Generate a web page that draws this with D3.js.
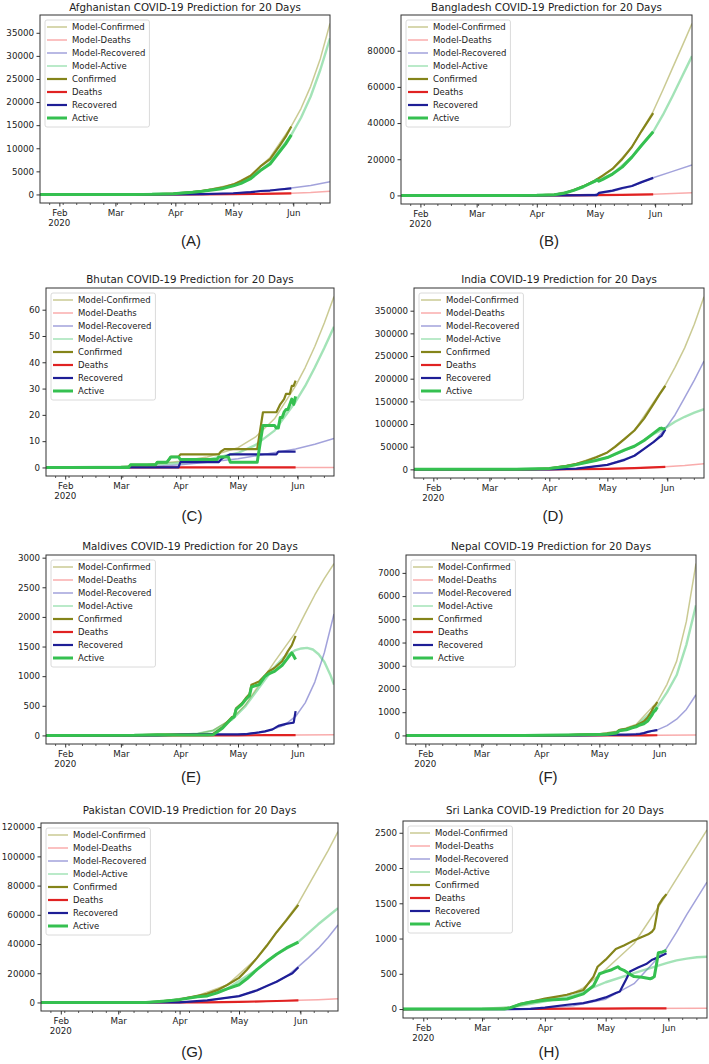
<!DOCTYPE html>
<html><head><meta charset="utf-8">
<script src="https://cdn.jsdelivr.net/npm/d3@7"></script>
<style>body{margin:0;background:#fff} svg{display:block}</style>
</head><body><svg id="c" width="709" height="1064"></svg>
<script>
// ---------- DATA (date "M/D" 2020, value) ----------
const seriesNames = ["Model-Confirmed","Model-Deaths","Model-Recovered","Model-Active","Confirmed","Deaths","Recovered","Active"];
const countryNames = ["Afghanistan","Bangladesh","Bhutan","India","Maldives","Nepal","Pakistan","Sri Lanka"];
const panelLetters = ["A","B","C","D","E","F","G","H"];
const monthTickLabels = ["Feb","Mar","Apr","May","Jun"];
const monthTickDates = ["2/1","3/1","4/1","5/1","6/1"];
const xDomainDates = ["1/22","6/20"];

const yTicksAF = [0,5000,10000,15000,20000,25000,30000,35000];
const yTicksBD = [0,20000,40000,60000,80000];
const yTicksBT = [0,10,20,30,40,50,60];
const yTicksIN = [0,50000,100000,150000,200000,250000,300000,350000];
const yTicksMV = [0,500,1000,1500,2000,2500,3000];
const yTicksNP = [0,1000,2000,3000,4000,5000,6000,7000];
const yTicksPK = [0,20000,40000,60000,80000,100000,120000];
const yTicksLK = [0,500,1000,1500,2000,2500];

// Afghanistan
const afModelConfirmed = [["1/22",0],["3/1",10],["3/15",40],["4/1",230],["4/15",760],["5/1",2200],["5/10",4200],["5/20",8000],["5/31",14800],["6/5",18600],["6/10",23400],["6/15",29400],["6/20",37000]];
const afModelDeaths = [["1/22",0],["4/1",4],["4/15",25],["5/1",65],["5/15",130],["5/31",260],["6/10",420],["6/20",700]];
const afModelRecovered = [["1/22",0],["3/20",2],["4/1",10],["4/15",60],["5/1",250],["5/15",700],["5/31",1380],["6/10",1950],["6/20",2750]];
const afModelActive = [["1/22",0],["3/15",35],["4/1",200],["4/15",680],["5/1",1900],["5/10",3600],["5/20",6900],["5/31",12900],["6/5",16600],["6/10",21200],["6/15",27000],["6/20",33800]];
const afConfirmed = [["1/22",0],["2/24",1],["3/10",5],["3/20",24],["3/31",174],["4/10",521],["4/15",784],["4/20",1092],["4/25",1463],["5/1",2171],["5/5",2894],["5/10",4033],["5/15",6053],["5/20",7653],["5/25",10582],["5/28",12456],["5/31",14700]];
const afDeaths = [["1/22",0],["3/22",1],["4/1",4],["4/15",25],["5/1",64],["5/15",127],["5/31",250]];
const afRecovered = [["1/22",0],["3/15",1],["4/1",5],["4/15",61],["5/1",260],["5/10",502],["5/15",745],["5/20",850],["5/25",1075],["5/31",1330]];
const afActive = [["1/22",0],["2/24",1],["3/10",5],["3/20",23],["3/31",164],["4/10",490],["4/15",700],["4/20",960],["4/25",1250],["5/1",1850],["5/5",2400],["5/10",3420],["5/15",5180],["5/20",6600],["5/25",9300],["5/28",10900],["5/31",12900]];

// Bangladesh
const bdModelConfirmed = [["1/22",0],["3/20",15],["4/1",60],["4/10",400],["4/20",2900],["5/1",8200],["5/10",14800],["5/20",26800],["5/31",46500],["6/5",58300],["6/10",70500],["6/15",82700],["6/20",95000]];
const bdModelDeaths = [["1/22",0],["4/1",6],["4/15",50],["5/1",170],["5/15",300],["5/31",630],["6/10",1000],["6/20",1480]];
const bdModelRecovered = [["1/22",0],["4/1",20],["4/15",100],["5/1",600],["5/10",2300],["5/20",5000],["5/31",9800],["6/10",13300],["6/20",16800]];
const bdModelActive = [["1/22",0],["3/20",15],["4/1",30],["4/10",360],["4/20",2800],["5/1",7800],["5/10",11800],["5/20",21100],["5/31",35200],["6/5",44500],["6/10",55000],["6/15",66000],["6/20",77000]];
const bdConfirmed = [["1/22",0],["3/8",3],["3/20",20],["4/1",54],["4/10",424],["4/15",1231],["4/20",2948],["4/25",4998],["5/1",8238],["5/5",10929],["5/10",14657],["5/15",20065],["5/20",26738],["5/25",35585],["5/31",45500]];
const bdDeaths = [["1/22",0],["3/18",1],["4/1",6],["4/15",50],["5/1",170],["5/15",298],["5/31",620]];
const bdRecovered = [["1/22",0],["3/20",3],["4/15",49],["5/1",174],["5/2",177],["5/3",1403],["5/10",2650],["5/15",4117],["5/20",5207],["5/25",7334],["5/31",9700]];
const bdActive = [["1/22",0],["3/8",3],["3/20",16],["4/1",23],["4/10",350],["4/15",1132],["4/20",2800],["4/25",4780],["5/1",7900],["5/2",8600],["5/3",7900],["5/5",8900],["5/10",11800],["5/15",15650],["5/20",21150],["5/25",27770],["5/31",35200]];

// Bhutan
const btModelConfirmed = [["1/22",0],["2/15",0.1],["3/1",0.4],["3/15",1.1],["4/1",2.4],["4/15",4],["5/1",7.5],["5/10",11.5],["5/20",18.5],["5/31",31],["6/5",38],["6/10",46],["6/15",55],["6/20",65]];
const btModelDeaths = [["1/22",0],["6/20",0]];
const btModelRecovered = [["1/22",0],["3/15",0.3],["4/1",1],["4/15",2],["5/1",3.3],["5/15",5],["5/31",7],["6/10",8.8],["6/20",11]];
const btModelActive = [["1/22",0],["3/1",0.3],["3/15",0.9],["4/1",1.8],["4/15",3],["5/1",5.5],["5/10",8.5],["5/20",14],["5/31",25],["6/5",31],["6/10",38],["6/15",45.5],["6/20",53.5]];
const btConfirmed = [["1/22",0],["3/5",0],["3/6",1],["3/19",1],["3/20",2],["3/25",2],["3/26",3],["3/27",4],["3/31",4],["4/1",5],["4/21",5],["4/22",6],["4/24",7],["5/11",7],["5/14",21],["5/21",21],["5/23",24],["5/25",26],["5/26",28],["5/28",28],["5/29",31],["5/30",31],["5/31",33]];
const btDeaths = [["1/22",0],["5/31",0]];
const btRecovered = [["1/22",0],["3/31",0],["4/1",2],["4/21",2],["4/22",3],["4/24",4],["4/27",5],["5/21",5],["5/22",6],["5/31",6]];
const btActive = [["1/22",0],["3/5",0],["3/6",1],["3/19",1],["3/20",2],["3/25",2],["3/26",3],["3/27",4],["3/31",4],["4/1",3],["4/20",3],["4/21",4],["4/26",4],["4/27",2],["5/11",2],["5/14",16],["5/20",16],["5/21",15],["5/22",15],["5/23",19],["5/24",19],["5/25",21],["5/26",22],["5/27",22],["5/28",24],["5/29",26],["5/30",24],["5/31",27]];

// India
const inModelConfirmed = [["1/22",0],["3/15",100],["4/1",2000],["4/15",12300],["5/1",37000],["5/15",86000],["5/31",186000],["6/5",225000],["6/10",268000],["6/15",320000],["6/20",381000]];
const inModelDeaths = [["1/22",0],["4/1",60],["4/15",400],["5/1",1200],["5/15",2800],["5/31",5500],["6/10",8500],["6/20",12500]];
const inModelRecovered = [["1/22",0],["4/15",1500],["5/1",10000],["5/15",30000],["5/25",60000],["5/31",90000],["6/5",120000],["6/10",158000],["6/15",197000],["6/20",239000]];
const inModelActive = [["1/22",0],["3/15",100],["4/1",1800],["4/15",10500],["5/1",26000],["5/15",51000],["5/25",78000],["5/31",91000],["6/5",105000],["6/10",116000],["6/15",125000],["6/20",132600]];
const inConfirmed = [["1/22",0],["1/30",1],["3/2",5],["3/15",113],["3/25",657],["4/1",1998],["4/10",7600],["4/15",12322],["4/20",18539],["4/25",26283],["5/1",37262],["5/5",49400],["5/10",67161],["5/15",85784],["5/20",112028],["5/25",144950],["5/28",165386],["5/31",184000]];
const inDeaths = [["1/22",0],["3/15",2],["4/1",58],["4/15",405],["5/1",1223],["5/15",2753],["5/25",4172],["5/31",5400]];
const inRecovered = [["1/22",0],["3/15",13],["4/1",150],["4/15",1432],["5/1",10007],["5/10",21000],["5/15",30000],["5/20",45300],["5/25",60491],["5/28",71000],["5/29",74000],["5/31",88000]];
const inActive = [["1/22",0],["3/15",98],["4/1",1790],["4/10",6500],["4/15",10485],["4/20",15000],["4/25",19500],["5/1",26032],["5/5",33500],["5/10",43000],["5/15",51000],["5/20",63624],["5/25",80072],["5/28",89987],["5/29",91000],["5/30",89000],["5/31",90600]];

// Maldives
const mvModelConfirmed = [["1/22",0],["3/15",3],["4/1",12],["4/10",30],["4/18",85],["4/28",285],["5/5",520],["5/10",760],["5/15",1000],["5/20",1240],["5/25",1470],["5/31",1740],["6/5",2060],["6/10",2370],["6/15",2650],["6/20",2900]];
const mvModelDeaths = [["1/22",0],["5/1",1],["5/31",5],["6/20",12]];
const mvModelRecovered = [["1/22",0],["4/1",2],["4/15",5],["5/1",15],["5/15",60],["5/25",170],["5/31",320],["6/5",550],["6/10",900],["6/15",1400],["6/20",2050]];
const mvModelActive = [["1/22",0],["3/15",3],["4/1",10],["4/10",28],["4/18",80],["4/28",270],["5/5",500],["5/10",720],["5/15",940],["5/20",1150],["5/25",1320],["5/31",1440],["6/3",1468],["6/6",1478],["6/9",1450],["6/12",1370],["6/15",1240],["6/18",1030],["6/20",860]];
const mvConfirmed = [["1/22",0],["3/8",2],["3/20",13],["4/1",18],["4/15",21],["4/18",25],["4/23",140],["4/28",313],["4/29",330],["4/30",455],["5/3",540],["5/5",626],["5/7",700],["5/8",854],["5/12",910],["5/15",1013],["5/17",1081],["5/20",1138],["5/24",1252],["5/27",1423],["5/29",1520],["5/31",1679]];
const mvDeaths = [["1/22",0],["4/15",0],["5/1",1],["5/15",4],["5/31",5]];
const mvRecovered = [["1/22",0],["3/20",0],["4/1",13],["4/15",16],["5/1",17],["5/5",20],["5/8",35],["5/12",50],["5/15",68],["5/19",102],["5/22",160],["5/26",194],["5/28",205],["5/30",216],["5/31",410]];
const mvActive = [["1/22",0],["3/8",2],["3/20",13],["4/1",5],["4/15",5],["4/18",9],["4/23",124],["4/28",297],["4/29",314],["4/30",439],["5/3",523],["5/5",606],["5/7",670],["5/8",818],["5/12",858],["5/15",996],["5/17",1040],["5/20",1080],["5/24",1184],["5/27",1309],["5/29",1394],["5/30",1340],["5/31",1280]];

// Nepal
const npModelConfirmed = [["1/22",0],["4/1",5],["4/15",17],["5/1",60],["5/10",180],["5/20",470],["5/31",1450],["6/5",2200],["6/10",3200],["6/15",4900],["6/20",7400]];
const npModelDeaths = [["1/22",0],["5/31",6],["6/20",20]];
const npModelRecovered = [["1/22",0],["4/15",1],["5/1",10],["5/15",40],["5/25",110],["5/31",240],["6/5",420],["6/10",700],["6/15",1120],["6/20",1750]];
const npModelActive = [["1/22",0],["4/1",4],["4/15",15],["5/1",45],["5/10",150],["5/20",400],["5/31",1230],["6/5",1850],["6/10",2600],["6/15",3900],["6/20",5600]];
const npConfirmed = [["1/22",0],["1/25",1],["3/23",2],["4/1",5],["4/15",16],["4/20",31],["5/1",59],["5/5",82],["5/10",134],["5/11",217],["5/12",250],["5/15",281],["5/18",375],["5/20",427],["5/22",516],["5/24",603],["5/26",772],["5/28",1042],["5/29",1212],["5/30",1300],["5/31",1440]];
const npDeaths = [["1/22",0],["5/15",2],["5/25",4],["5/31",6]];
const npRecovered = [["1/22",0],["2/1",1],["4/15",1],["4/20",4],["5/1",16],["5/10",31],["5/15",36],["5/20",50],["5/22",60],["5/24",100],["5/26",150],["5/28",190],["5/30",215],["5/31",228]];
const npActive = [["1/22",0],["1/25",1],["3/23",1],["4/1",4],["4/15",15],["4/20",27],["5/1",43],["5/5",53],["5/10",103],["5/11",185],["5/12",215],["5/15",245],["5/18",330],["5/20",370],["5/22",450],["5/24",500],["5/26",620],["5/28",850],["5/29",1000],["5/30",1080],["5/31",1210]];

// Pakistan
const pkModelConfirmed = [["1/22",0],["3/15",50],["3/25",1050],["4/10",4600],["4/25",11900],["5/10",30300],["5/20",48000],["5/31",68000],["6/5",80000],["6/10",92000],["6/15",104000],["6/20",117000]];
const pkModelDeaths = [["1/22",0],["4/1",27],["4/15",107],["5/1",385],["5/15",834],["5/31",1450],["6/10",1900],["6/20",2500]];
const pkModelRecovered = [["1/22",0],["4/1",80],["4/15",1400],["5/1",4300],["5/15",11200],["5/25",17900],["5/31",24500],["6/5",30500],["6/10",37000],["6/15",44500],["6/20",53000]];
const pkModelActive = [["1/22",0],["3/15",50],["3/25",1030],["4/10",3900],["4/25",9300],["5/10",22500],["5/20",33000],["5/31",41500],["6/5",47500],["6/10",53500],["6/15",59000],["6/20",64500]];
const pkConfirmed = [["1/22",0],["2/26",2],["3/10",19],["3/15",53],["3/20",495],["3/25",1057],["4/1",2039],["4/5",3157],["4/10",4601],["4/15",5988],["4/20",8418],["4/25",11940],["5/1",16817],["5/5",22413],["5/10",30334],["5/15",38799],["5/20",48091],["5/25",56349],["5/31",66800]];
const pkDeaths = [["1/22",0],["3/20",3],["4/1",27],["4/15",107],["5/1",385],["5/15",834],["5/25",1167],["5/31",1400]];
const pkRecovered = [["1/22",0],["3/15",2],["3/25",21],["4/1",82],["4/15",1378],["5/1",4315],["5/10",8212],["5/15",11200],["5/20",14155],["5/25",17900],["5/28",20000],["5/31",24100]];
const pkActive = [["1/22",0],["2/26",2],["3/10",19],["3/15",51],["3/20",480],["3/25",1030],["4/1",1930],["4/10",3900],["4/15",4500],["4/20",6600],["4/25",9300],["5/1",12100],["5/5",16200],["5/10",22500],["5/15",28000],["5/20",33000],["5/25",37300],["5/31",41300]];

// Sri Lanka
const lkModelConfirmed = [["1/22",0],["3/1",5],["3/15",25],["4/1",120],["4/15",230],["4/20",300],["5/1",560],["5/15",930],["5/31",1620],["6/5",1850],["6/10",2080],["6/15",2310],["6/20",2540]];
const lkModelDeaths = [["1/22",0],["4/1",3],["5/1",8],["6/20",12]];
const lkModelRecovered = [["1/22",0],["3/15",0],["4/1",15],["4/15",45],["5/1",140],["5/15",360],["5/31",860],["6/5",1090],["6/10",1340],["6/15",1570],["6/20",1800]];
const lkModelActive = [["1/22",0],["3/1",5],["3/15",22],["4/1",110],["4/15",190],["5/1",380],["5/15",510],["5/31",650],["6/5",690],["6/10",715],["6/15",735],["6/20",742]];
const lkConfirmed = [["1/22",0],["1/27",1],["3/10",1],["3/12",2],["3/15",18],["3/20",73],["3/25",102],["4/1",148],["4/12",203],["4/20",270],["4/25",460],["4/27",600],["5/1",700],["5/6",850],["5/10",900],["5/14",960],["5/18",1010],["5/22",1060],["5/24",1100],["5/25",1141],["5/26",1300],["5/27",1470],["5/29",1560],["5/31",1630]];
const lkDeaths = [["1/22",0],["3/28",1],["4/15",7],["5/1",7],["5/15",9],["5/31",10]];
const lkRecovered = [["1/22",0],["3/15",0],["3/25",3],["4/1",21],["4/12",61],["4/20",85],["4/26",123],["5/1",165],["5/6",227],["5/8",250],["5/11",416],["5/13",534],["5/17",590],["5/21",638],["5/24",700],["5/28",747],["5/31",790]];
const lkActive = [["1/22",0],["1/27",1],["3/10",1],["3/12",2],["3/15",18],["3/20",70],["3/25",99],["4/1",124],["4/12",142],["4/20",215],["4/25",330],["4/28",500],["5/1",530],["5/4",558],["5/7",600],["5/8",575],["5/10",550],["5/12",510],["5/15",460],["5/19",450],["5/23",430],["5/24",440],["5/25",460],["5/26",620],["5/27",800],["5/29",810],["5/31",830]];

// ---------- assemble ----------
const panelData = [
  {ticks:yTicksAF, s:[afModelConfirmed,afModelDeaths,afModelRecovered,afModelActive,afConfirmed,afDeaths,afRecovered,afActive]},
  {ticks:yTicksBD, s:[bdModelConfirmed,bdModelDeaths,bdModelRecovered,bdModelActive,bdConfirmed,bdDeaths,bdRecovered,bdActive]},
  {ticks:yTicksBT, s:[btModelConfirmed,btModelDeaths,btModelRecovered,btModelActive,btConfirmed,btDeaths,btRecovered,btActive]},
  {ticks:yTicksIN, s:[inModelConfirmed,inModelDeaths,inModelRecovered,inModelActive,inConfirmed,inDeaths,inRecovered,inActive]},
  {ticks:yTicksMV, s:[mvModelConfirmed,mvModelDeaths,mvModelRecovered,mvModelActive,mvConfirmed,mvDeaths,mvRecovered,mvActive]},
  {ticks:yTicksNP, s:[npModelConfirmed,npModelDeaths,npModelRecovered,npModelActive,npConfirmed,npDeaths,npRecovered,npActive]},
  {ticks:yTicksPK, s:[pkModelConfirmed,pkModelDeaths,pkModelRecovered,pkModelActive,pkConfirmed,pkDeaths,pkRecovered,pkActive]},
  {ticks:yTicksLK, s:[lkModelConfirmed,lkModelDeaths,lkModelRecovered,lkModelActive,lkConfirmed,lkDeaths,lkRecovered,lkActive]},
];

// layout (frames of each axes in px)
const frames = [
  {x0:40, x1:330, y0:15, y1:203, ty:11, lx:191, ly:240},
  {x0:401,x1:692, y0:15, y1:204, ty:11, lx:549, ly:240},
  {x0:46, x1:334, y0:288,y1:476, ty:283,lx:192, ly:515},
  {x0:414,x1:704, y0:288,y1:478, ty:283,lx:553, ly:515},
  {x0:46, x1:334, y0:555,y1:744, ty:550,lx:191, ly:776},
  {x0:406,x1:696, y0:555,y1:744, ty:550,lx:548, ly:776},
  {x0:41, x1:338, y0:823,y1:1011,ty:814,lx:192, ly:1051},
  {x0:403,x1:707, y0:821,y1:1018,ty:814,lx:549, ly:1051},
];

const styles = [
  {color:"#8a8a10", op:0.45, w:1.5},
  {color:"#f03030", op:0.4, w:1.5},
  {color:"#3030b0", op:0.45, w:1.5},
  {color:"#33c060", op:0.45, w:2.4},
  {color:"#84841a", op:1, w:2.2},
  {color:"#e02222", op:1, w:2.2},
  {color:"#1e1e96", op:1, w:2.2},
  {color:"#35c050", op:1, w:3},
];

const parse = s => d3.timeParse("%m/%d/%Y")(s + "/2020");
const toPts = arr => arr.map(([d,v]) => ({date: parse(d), value: v}));
const FONT = "DejaVu Sans, sans-serif";
const svg = d3.select("#c");
const xDomain = xDomainDates.map(parse);

panelData.forEach((p, i) => {
  const f = frames[i];
  const series = p.s.map(toPts);
  const ymax = d3.max(series, s => d3.max(s, d => d.value));
  const ymin = 0;
  const pad = (ymax - ymin) * 0.05;
  const x = d3.scaleTime().domain(xDomain).range([f.x0, f.x1]);
  const y = d3.scaleLinear().domain([ymin - pad, ymax + pad]).range([f.y1, f.y0]);
  const g = svg.append("g");

  const clipId = "clip" + i;
  g.append("clipPath").attr("id", clipId).append("rect")
    .attr("x", f.x0).attr("y", f.y0).attr("width", f.x1 - f.x0).attr("height", f.y1 - f.y0);

  const line = d3.line().x(d => x(d.date)).y(d => y(d.value));
  const lg = g.append("g").attr("clip-path", `url(#${clipId})`);
  series.forEach((s, k) => {
    const st = styles[k];
    lg.append("path").datum(s).attr("d", line).attr("fill", "none")
      .attr("stroke", st.color).attr("stroke-opacity", st.op).attr("stroke-width", st.w)
      .attr("stroke-linejoin", "round").attr("stroke-linecap", "butt");
  });

  // frame
  g.append("rect").attr("x", f.x0).attr("y", f.y0).attr("width", f.x1 - f.x0).attr("height", f.y1 - f.y0)
    .attr("fill", "none").attr("stroke", "#333").attr("stroke-width", 1);

  // y axis
  const ya = g.append("g").attr("transform", `translate(${f.x0},0)`)
    .call(d3.axisLeft(y).tickValues(p.ticks).tickSize(3.5).tickPadding(2.5).tickFormat(d3.format("d")));
  ya.select(".domain").remove();
  ya.selectAll("line").attr("stroke", "#333");
  ya.selectAll("text").attr("font-family", FONT).attr("font-size", 8.7).attr("fill", "#222");

  // x axis major
  const monthDates = monthTickDates.map(parse);
  const xa = g.append("g").attr("transform", `translate(0,${f.y1})`)
    .call(d3.axisBottom(x).tickValues(monthDates).tickSize(3.5).tickPadding(3)
      .tickFormat((d, j) => monthTickLabels[j]));
  xa.select(".domain").remove();
  xa.selectAll("line").attr("stroke", "#333");
  xa.selectAll("text").attr("font-family", FONT).attr("font-size", 8.7).attr("fill", "#222");
  // year under first tick
  g.append("text").attr("x", x(monthDates[0])).attr("y", f.y1 + 23)
    .attr("text-anchor", "middle").attr("font-family", FONT).attr("font-size", 8.7).attr("fill", "#222")
    .text("2020");
  // minor ticks (weekly, Mondays)
  const minor = d3.timeMonday.range(xDomain[0], xDomain[1]);
  g.append("g").selectAll("line").data(minor).join("line")
    .attr("x1", d => x(d)).attr("x2", d => x(d)).attr("y1", f.y1).attr("y2", f.y1 + 2)
    .attr("stroke", "#333").attr("stroke-width", 0.8);

  // title
  g.append("text").attr("x", (f.x0 + f.x1) / 2).attr("y", f.ty).attr("text-anchor", "middle")
    .attr("font-family", FONT).attr("font-size", 10.3).attr("fill", "#222")
    .text(countryNames[i] + " COVID-19 Prediction for 20 Days");

  // legend
  const lgX = f.x0 + 5, lgY = f.y0 + 5, rowH = 13;
  const leg = g.append("g");
  const box = leg.append("rect").attr("x", lgX).attr("y", lgY).attr("rx", 2).attr("ry", 2)
    .attr("fill", "#fff").attr("fill-opacity", 0.85).attr("stroke", "#d0d0d0").attr("stroke-width", 0.8);
  let maxW = 0;
  seriesNames.forEach((nm, k) => {
    const cy = lgY + 7 + k * rowH;
    const st = styles[k];
    leg.append("line").attr("x1", f.x0 + 7).attr("x2", f.x0 + 27).attr("y1", cy).attr("y2", cy)
      .attr("stroke", st.color).attr("stroke-opacity", st.op).attr("stroke-width", k < 4 ? 1.5 : st.w);
    const t = leg.append("text").attr("x", f.x0 + 32).attr("y", cy + 3)
      .attr("font-family", FONT).attr("font-size", 8.5).attr("fill", "#222").text(nm);
    maxW = Math.max(maxW, t.node().getComputedTextLength());
  });
  box.attr("width", 32 + maxW + 4 - 5).attr("height", 8 * rowH + 3);

  // panel letter
  svg.append("text").attr("x", f.lx).attr("y", f.ly + 5.5).attr("text-anchor", "middle")
    .attr("font-family", "Liberation Sans, Arial, sans-serif").attr("font-size", 15).attr("fill", "#222")
    .text("(" + panelLetters[i] + ")");
});
</script></body></html>
